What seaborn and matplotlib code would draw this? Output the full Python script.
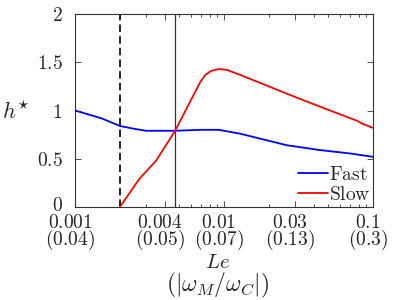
import matplotlib
matplotlib.use("Agg")
import matplotlib.pyplot as plt
import matplotlib.transforms as mtransforms
import seaborn as sns
import pandas as pd
import numpy as np
from matplotlib.ticker import LogLocator, NullFormatter

# ---- data ----
fast_le = [0.001, 0.0015, 0.002, 0.0025, 0.003, 0.0047, 0.007, 0.0092, 0.0128, 0.0264, 0.044, 0.07, 0.1]
fast_h  = [1.00, 0.92, 0.84, 0.81, 0.79, 0.79, 0.80, 0.80, 0.76, 0.64, 0.59, 0.555, 0.52]

slow_le = [0.002, 0.0027, 0.0035, 0.0047, 0.0069, 0.0075, 0.0082, 0.0092, 0.0105, 0.0128, 0.03, 0.0515, 0.0777, 0.0857, 0.1]
slow_h  = [0.00, 0.29, 0.48, 0.79, 1.29, 1.37, 1.41, 1.43, 1.42, 1.37, 1.14, 1.00, 0.895, 0.86, 0.82]

series_names = ["Fast", "Slow"]
xtick_vals = [0.001, 0.004, 0.01, 0.03, 0.1]
xtick_top = ["0.001", "0.004", "0.01", "0.03", "0.1"]
xtick_bot = ["0.04", "0.05", "0.07", "0.13", "0.3"]
ytick_vals = [0, 0.5, 1, 1.5, 2]
ytick_labels = ["0", "0.5", "1", "1.5", "2"]
dashed_le = 0.002
solid_le = 0.0047

df = pd.DataFrame({
    "Le": fast_le + slow_le,
    "h": fast_h + slow_h,
    "series": [series_names[0]] * len(fast_le) + [series_names[1]] * len(slow_le),
})

sns.set_style("ticks")
plt.rcParams["mathtext.fontset"] = "cm"
plt.rcParams["font.family"] = ["DejaVu Serif"]

fig = plt.figure(figsize=(3.99, 3.0), dpi=100)
ax = fig.add_axes([75 / 399, 93 / 300, 298 / 399, 193 / 300])

ax.axvline(dashed_le, color="black", lw=1.2, ls=(0, (4.5, 2.5)), zorder=1)
ax.axvline(solid_le, color="#333333", lw=0.9, zorder=1)

sns.lineplot(data=df, x="Le", y="h", hue="series", palette={"Fast": "#0000ff", "Slow": "#ff0000"},
             lw=1.3, ax=ax, sort=False, estimator=None, zorder=3)

ax.set_xscale("log")
ax.set_xlim(0.001, 0.1)
ax.set_ylim(0, 2)

ax.set_xticks(xtick_vals)
ax.set_xticklabels([f"${a}$\n$({b})$" for a, b in zip(xtick_top, xtick_bot)], fontsize=14, linespacing=0.78)
ax.xaxis.set_minor_locator(LogLocator(base=10, subs=np.arange(2, 10)))
ax.xaxis.set_minor_formatter(NullFormatter())
ax.set_yticks(ytick_vals)
ax.set_yticklabels([f"${t}$" for t in ytick_labels], fontsize=14)

ax.tick_params(which="both", direction="in", top=True, right=True, color="#333333", width=0.6)
ax.tick_params(axis="x", which="major", length=4, pad=5)
ax.tick_params(axis="y", which="major", length=4, pad=9)
ax.tick_params(which="minor", length=2.5)
for s in ax.spines.values():
    s.set_color("#333333")
    s.set_linewidth(0.8)

shift = mtransforms.ScaledTranslation(-5 / 100, 0, fig.dpi_scale_trans)
for lab in ax.get_xticklabels():
    lab.set_transform(lab.get_transform() + shift)
yshift = mtransforms.ScaledTranslation(0, 3 / 100, fig.dpi_scale_trans)
ax.get_yticklabels()[0].set_transform(ax.get_yticklabels()[0].get_transform() + yshift)

ax.set_xlabel(r"$Le$", fontsize=15, va="center")
ax.xaxis.set_label_coords(0.48, -0.29)
ax.text(0.48, -0.405, r"$(|\omega_M/\omega_C|)$", fontsize=17, ha="center", va="center",
        transform=ax.transAxes)
ax.set_ylabel(r"$h^{\star}$", fontsize=16, rotation=0, va="center", ha="center")
ax.yaxis.set_label_coords(-0.198, 0.49)

handles, labels = ax.get_legend_handles_labels()
ax.legend(handles, [rf"$\mathrm{{{l}}}$" for l in labels], loc="lower right", frameon=False,
          fontsize=14, handlelength=1.5, handletextpad=0.05, borderaxespad=0.0, borderpad=0.15,
          labelspacing=0.1)

fig.savefig("out.png", dpi=100)
